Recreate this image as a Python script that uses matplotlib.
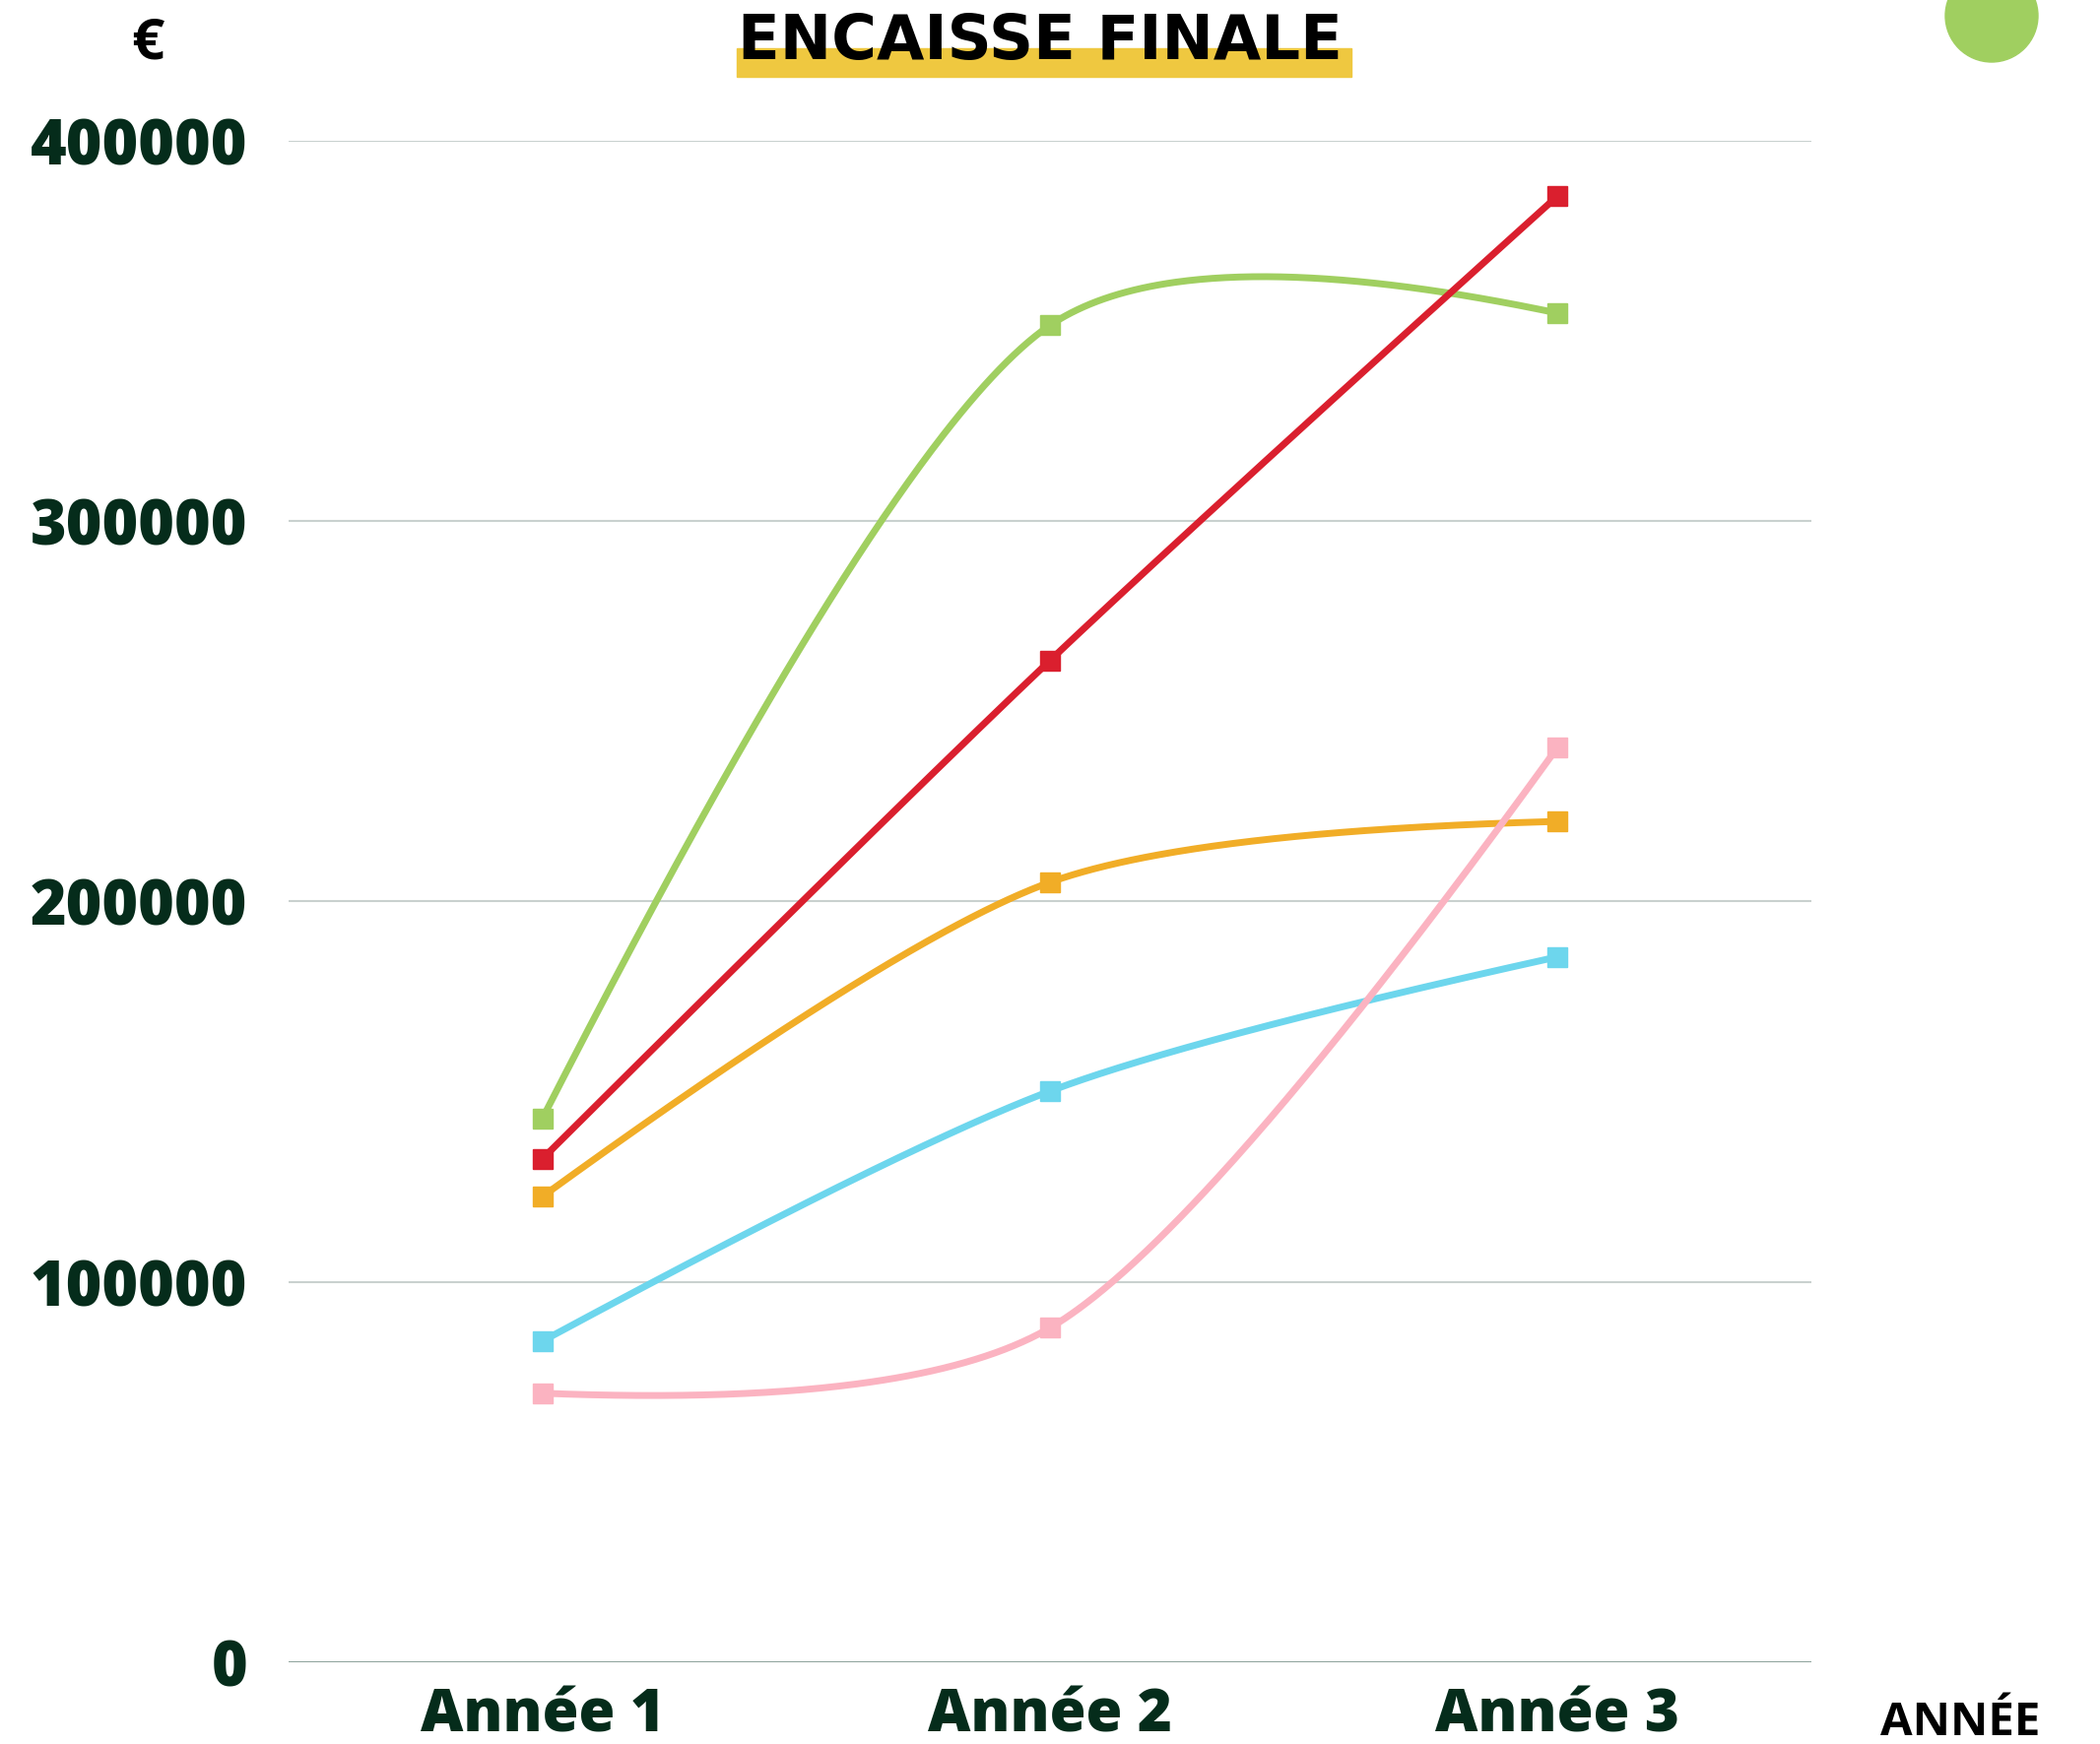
import numpy as np
import matplotlib.pyplot as plt
from matplotlib.patches import Ellipse, Rectangle

annees = ['Année 1', 'Année 2', 'Année 3']
serie_verte = [142900, 351400, 354600]
serie_rouge = [132300, 263300, 385400]
serie_orange = [122400, 205000, 221000]
serie_bleue = [84400, 150100, 185400]
serie_rose = [70700, 87900, 240500]
series = [serie_verte, serie_rouge, serie_orange, serie_bleue, serie_rose]
couleurs = ['#a0cf60', '#da1f2e', '#f1ad27', '#6dd6ed', '#fbb3c1']
graduations = [0, 100000, 200000, 300000, 400000]

vert_fonce = '#052c1b'
police = ['Open Sans', 'DejaVu Sans']

fig = plt.figure(figsize=(21.32, 17.71), dpi=100)
ax = fig.add_axes([0.1374, 0.0469, 0.7252, 0.8726])
ax.set_xlim(-0.5, 2.5)
ax.set_ylim(0, 400000)


def tangente(p0, p1, p2, lissage):
    d1 = p0 - p1
    d2 = p2 - p1
    a1 = np.hypot(*d1) ** 0.25
    a2 = np.hypot(*d2) ** 0.25
    num = (a2 * a2 * d1 - a1 * a1 * d2) * lissage
    return p1 + num / (3 * a2 * (a1 + a2)), p1 - num / (3 * a1 * (a1 + a2))


def lisser(xs, ys, lissage=0.85):
    # courbe lissee (catmull-rom + quadratiques aux bouts), en pixels
    pts = ax.transData.transform(np.column_stack([xs, ys]))
    n = len(pts)
    tg = [tangente(pts[i - 1], pts[i], pts[i + 1], lissage) for i in range(1, n - 1)]
    t = np.linspace(0, 1, 150)[:, None]
    morceaux = []
    # premier morceau quadratique
    c = tg[0][0]
    morceaux.append((1 - t) ** 2 * pts[0] + 2 * t * (1 - t) * c + t ** 2 * pts[1])
    for i in range(2, n - 1):
        c1, c2 = tg[i - 2][1], tg[i - 1][0]
        p0, p3 = pts[i - 1], pts[i]
        morceaux.append((1 - t) ** 3 * p0 + 3 * (1 - t) ** 2 * t * c1 + 3 * (1 - t) * t ** 2 * c2 + t ** 3 * p3)
    c = tg[-1][1]
    morceaux.append((1 - t) ** 2 * pts[-2] + 2 * t * (1 - t) * c + t ** 2 * pts[-1])
    courbe = ax.transData.inverted().transform(np.vstack(morceaux))
    return courbe[:, 0], courbe[:, 1]


x = np.arange(len(annees))
for ys, c in zip(series, couleurs):
    cx, cy = lisser(x, ys)
    ax.plot(cx, cy, color=c, lw=5, zorder=3, clip_on=False)
    ax.plot(x, ys, 's', color=c, ms=14, zorder=4, clip_on=False)

ax.set_xticks(x, annees)
ax.set_yticks(graduations, [str(v) for v in graduations])
ax.tick_params(length=0, labelcolor=vert_fonce)
ax.tick_params(axis='x', pad=18, labelsize=43)
ax.tick_params(axis='y', pad=30, labelsize=45)
for lab in ax.get_xticklabels() + ax.get_yticklabels():
    lab.set_family(police)
    lab.set_fontweight(800)

ax.grid(axis='y', color='#c9d1cf', lw=1.5)
ax.set_axisbelow(True)
ax.axhline(0, color='#7d968d', lw=1.8, zorder=2)
for s in ax.spines.values():
    s.set_visible(False)

# titre avec bandeau jaune
fig.add_artist(Rectangle((748 / 2132, 1 - 78 / 1771), 624 / 2132, 29 / 1771,
                         transform=fig.transFigure, color='#efc840', zorder=1))
fig.text(1056 / 2132, 1 - 60 / 1771, 'ENCAISSE FINALE', ha='center', va='baseline', fontsize=45,
         fontweight='bold', family='DejaVu Sans', color='black', zorder=2)

fig.text(150 / 2132, 1 - 59 / 1771, '€', ha='center', va='baseline', fontsize=42,
         fontweight='bold', family=police, color='black')
fig.text(1990 / 2132, 1 - 1762 / 1771, 'ANNÉE', ha='center', va='baseline', fontsize=34,
         fontweight='bold', family=police, color='black')

fig.add_artist(Ellipse((2022 / 2132, 1 - 16 / 1771), 94 / 2132, 94 / 1771,
                       transform=fig.transFigure, color='#a0cf60'))

fig.savefig('out.png', dpi=100)
